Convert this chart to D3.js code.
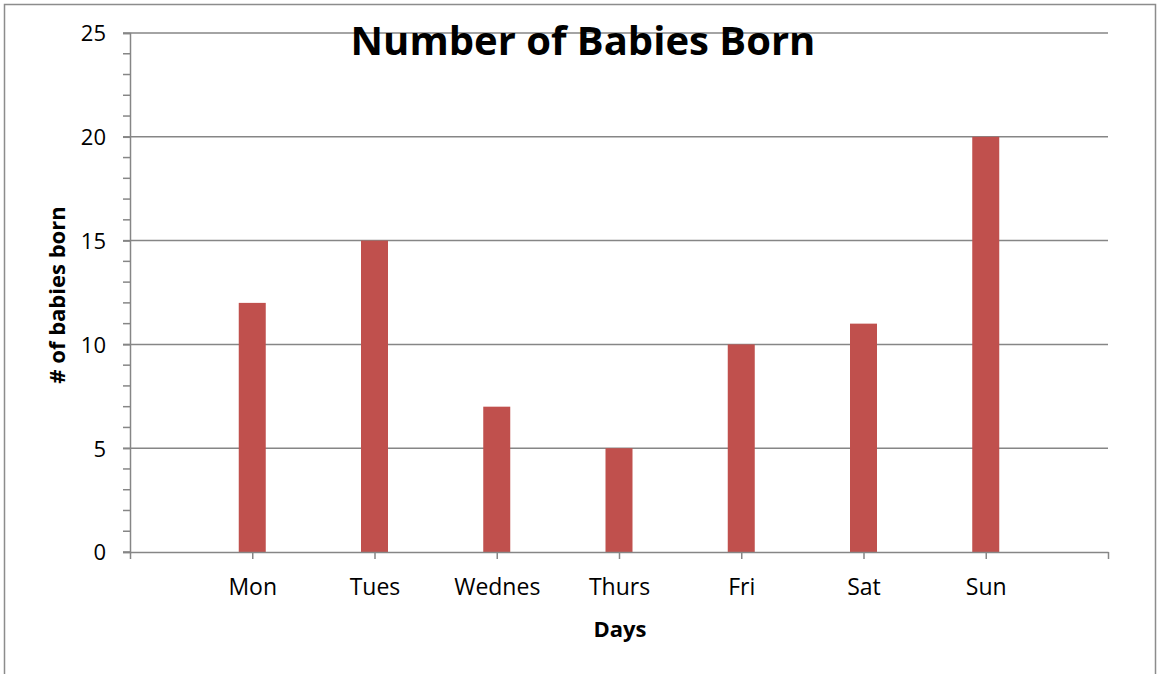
<!DOCTYPE html>
<html><head><meta charset="utf-8">
<script src="https://cdn.jsdelivr.net/npm/d3@7"></script>
<style>body{margin:0;background:#fff}svg{display:block}text{font-family:"Open Sans",sans-serif;fill:#000}</style>
</head><body>
<svg id="c" width="1157" height="674"></svg>
<script>
const categories = ["", "Mon", "Tues", "Wednes", "Thurs", "Fri", "Sat", "Sun", " "];
const days = ["Mon", "Tues", "Wednes", "Thurs", "Fri", "Sat", "Sun"];
const values = [12, 15, 7, 5, 10, 11, 20];
const yTicks = [0, 5, 10, 15, 20, 25];
const minorTicks = d3.range(0, 26);

const svg = d3.select("#c");
const L = 130, R = 1108, T = 33, B = 552;
const axisColor = "#868686";

// outer border
svg.append("path").attr("d", "M4.5,674 V4.5 H1155.5 V674").attr("fill","none").attr("stroke","#8c8c8c").attr("stroke-width",1.5);

const x = d3.scalePoint().domain(categories).range([L, R]);
const y = d3.scaleLinear().domain([0, 25]).range([B, T]);

// gridlines
svg.append("g").selectAll("line").data(yTicks.filter(d=>d>0)).join("line")
  .attr("x1", L).attr("x2", R).attr("y1", d=>y(d)).attr("y2", d=>y(d))
  .attr("stroke", axisColor).attr("stroke-width", 1.5);

// minor ticks
svg.append("g").selectAll("line").data(minorTicks).join("line")
  .attr("x1", L-7).attr("x2", L).attr("y1", d=>y(d)).attr("y2", d=>y(d))
  .attr("stroke", axisColor).attr("stroke-width", 1.5);

// y axis
const ya = svg.append("g").attr("transform", `translate(${L},0)`)
  .call(d3.axisLeft(y).tickValues(yTicks).tickSize(7).tickPadding(17));
ya.select(".domain").attr("stroke", axisColor).attr("stroke-width", 1.5);
ya.selectAll(".tick line").attr("stroke", axisColor).attr("stroke-width", 1.5);
ya.selectAll(".tick text").attr("font-size", 22).attr("font-family","Open Sans").attr("fill","#000").attr("dy","0.36em");

// bars
const bw = 27;
svg.append("g").selectAll("rect").data(days).join("rect")
  .attr("x", (d)=>x(d)-bw/2).attr("width", bw)
  .attr("y", (d,i)=>y(values[i])).attr("height", (d,i)=>B - y(values[i]))
  .attr("fill", "#C0504D");

// x axis
const xa = svg.append("g").attr("transform", `translate(0,${B})`)
  .call(d3.axisBottom(x).tickSize(7).tickPadding(20).tickSizeOuter(0));
xa.select(".domain").attr("stroke", axisColor).attr("stroke-width", 1.5);
xa.selectAll(".tick line").attr("stroke", axisColor).attr("stroke-width", 1.5);
xa.selectAll(".tick text").attr("font-size", 23).attr("font-family","Open Sans").attr("fill","#000");

// titles
svg.append("text").attr("x", 583).attr("y", 55).attr("text-anchor","middle")
  .attr("font-size", 40).attr("font-weight","bold").text("Number of Babies Born");
svg.append("text").attr("x", 620).attr("y", 637).attr("text-anchor","middle")
  .attr("font-size", 22).attr("font-weight","bold").text("Days");
svg.append("text").attr("transform", "translate(65,295) rotate(-90)").attr("text-anchor","middle")
  .attr("font-size", 22).attr("font-weight","bold").text("# of babies born");
</script>
</body></html>
